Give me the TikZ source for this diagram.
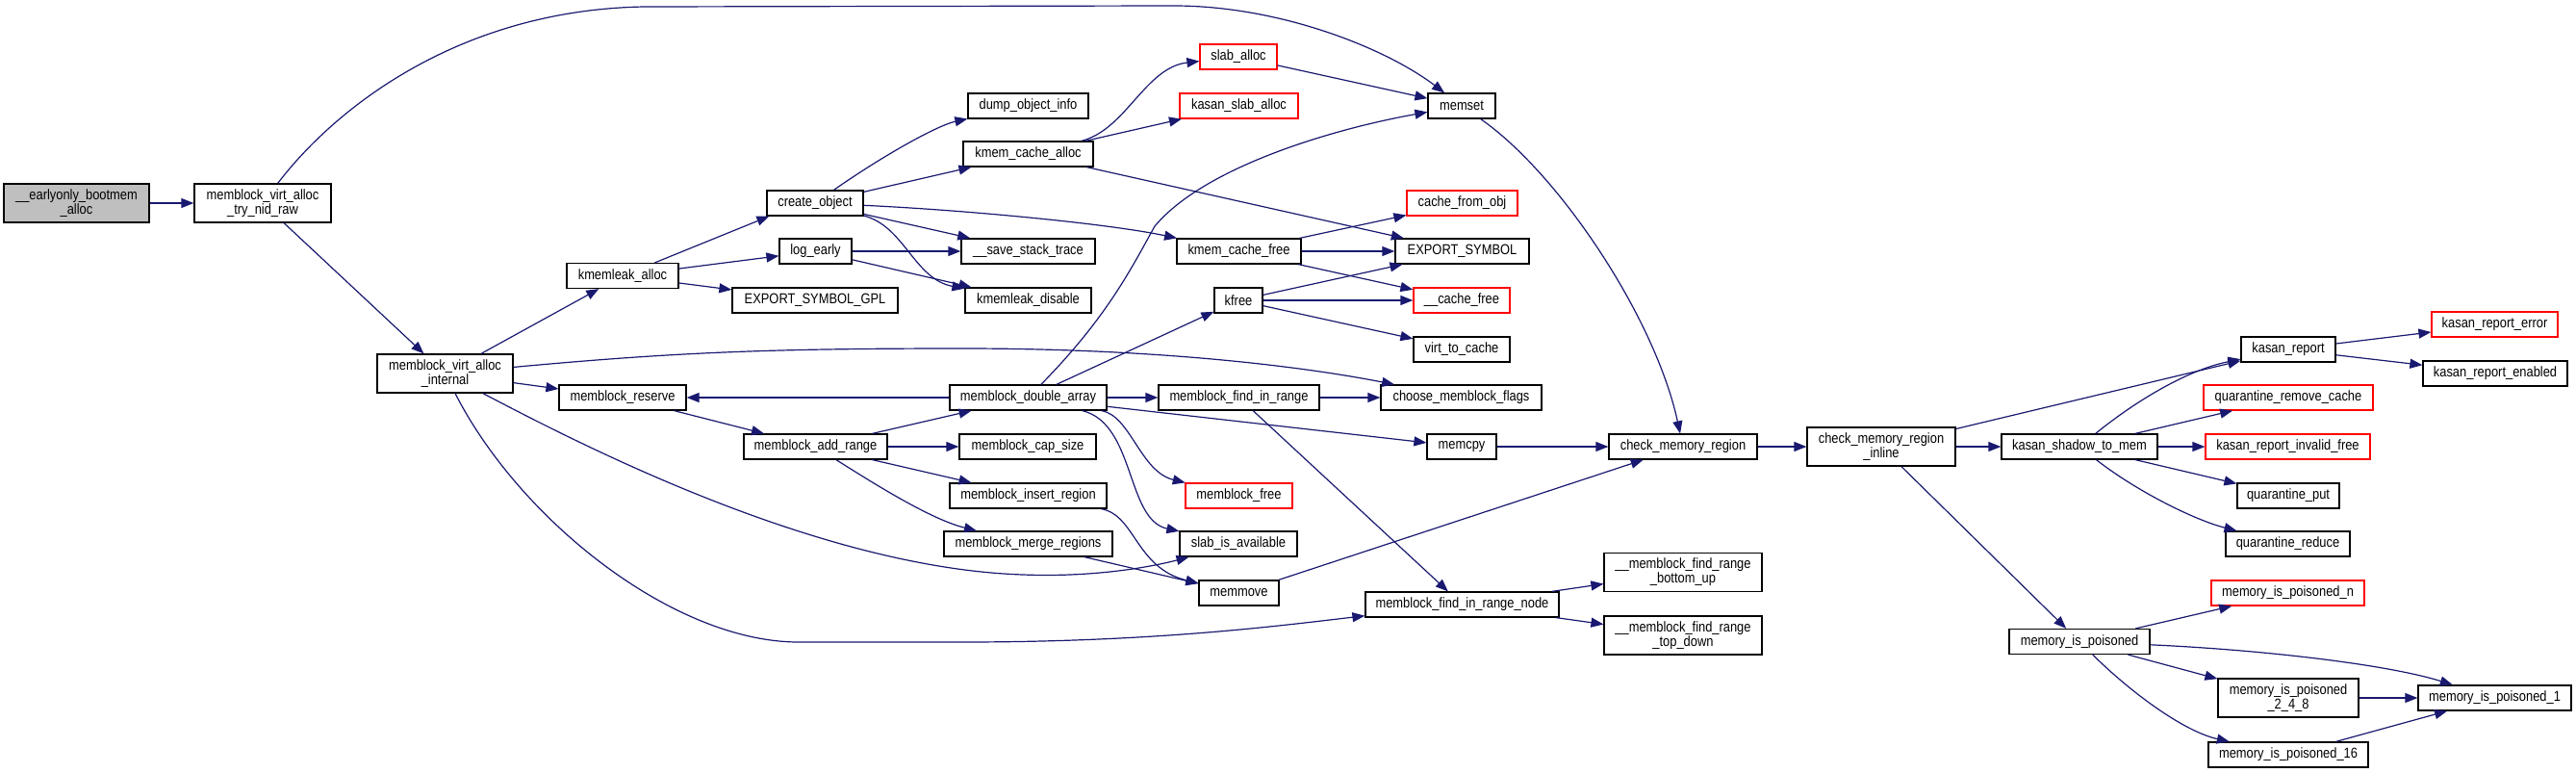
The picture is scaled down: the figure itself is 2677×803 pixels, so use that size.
\documentclass[tikz,border=0pt]{standalone}
\usepackage{fontspec}
\setmainfont[FakeStretch=0.865]{Liberation Sans}
\usetikzlibrary{arrows.meta}
\definecolor{edgec}{HTML}{191970}
\definecolor{rootfill}{HTML}{BFBFBF}
\definecolor{redb}{HTML}{FF0000}
\tikzset{
  fn/.style={draw=black, line width=1.2pt, fill=white, inner sep=0pt,
    minimum height=26pt, align=center, font=\fontsize{14.9}{15}\selectfont},
  fntwo/.style={fn, minimum height=40pt},
  redfn/.style={fn, draw=redb},
  arr/.style={draw=edgec, line width=1.2pt, -{Triangle[length=13pt,width=10pt]}}
}
\begin{document}
\begin{tikzpicture}[x=1pt,y=-1pt]
\useasboundingbox (0,0) rectangle (2677,803);
% nodes
\node[fntwo, fill=rootfill, minimum width=151pt] (early) at (79.5,211) {\_\_earlyonly\_bootmem\\\_alloc};
\node[fntwo, minimum width=142pt] (tryraw) at (273,211) {memblock\_virt\_alloc\\\_try\_nid\_raw};
\node[fntwo, minimum width=141pt] (internal) at (462.5,388) {memblock\_virt\_alloc\\\_internal};
\node[fn, minimum width=116pt] (kmemleak) at (647,286.5) {kmemleak\_alloc};
\node[fn, minimum width=132pt] (reserve) at (647,413) {memblock\_reserve};
\node[fn, minimum width=100pt] (createobj) at (847,211) {create\_object};
\node[fn, minimum width=75pt] (logearly) at (847.5,261) {log\_early};
\node[fn, minimum width=172pt] (exportgpl) at (847,312) {EXPORT\_SYMBOL\_GPL};
\node[fn, minimum width=125pt] (dumpobj) at (1068.5,110) {dump\_object\_info};
\node[fn, minimum width=135pt] (kcalloc) at (1068.5,160) {kmem\_cache\_alloc};
\node[fn, minimum width=139pt] (savestack) at (1068.5,261) {\_\_save\_stack\_trace};
\node[fn, minimum width=131pt] (kmdisable) at (1068.5,312) {kmemleak\_disable};
\node[fn, minimum width=163pt] (dblarray) at (1068.5,413) {memblock\_double\_array};
\node[fn, minimum width=149pt] (addrange) at (847.5,464) {memblock\_add\_range};
\node[fn, minimum width=142pt] (capsize) at (1068,464) {memblock\_cap\_size};
\node[fn, minimum width=163pt] (insertreg) at (1068.5,515) {memblock\_insert\_region};
\node[fn, minimum width=175pt] (mergereg) at (1068.5,565) {memblock\_merge\_regions};
\node[redfn, minimum width=80pt] (slaballoc) at (1287,59) {slab\_alloc};
\node[redfn, minimum width=123pt] (kasanslab) at (1287.5,110) {kasan\_slab\_alloc};
\node[fn, minimum width=129pt] (kcfree) at (1287.5,261) {kmem\_cache\_free};
\node[fn, minimum width=50pt] (kfree) at (1287,312) {kfree};
\node[fn, minimum width=167pt] (findrange) at (1287.5,413) {memblock\_find\_in\_range};
\node[redfn, minimum width=111pt] (mbfree) at (1287.5,515) {memblock\_free};
\node[fn, minimum width=122pt] (slabavail) at (1287,565) {slab\_is\_available};
\node[fn, minimum width=83pt] (memmove) at (1287.5,616) {memmove};
\node[fn, minimum width=70pt] (memset) at (1519,110) {memset};
\node[redfn, minimum width=115pt] (cachefromobj) at (1519.5,211) {cache\_from\_obj};
\node[fn, minimum width=139pt] (exportsym) at (1519.5,261) {EXPORT\_SYMBOL};
\node[redfn, minimum width=100pt] (cachefree) at (1519,312) {\_\_cache\_free};
\node[fn, minimum width=100pt] (virttocache) at (1519,363) {virt\_to\_cache};
\node[fn, minimum width=167pt] (choose) at (1518.5,413) {choose\_memblock\_flags};
\node[fn, minimum width=72pt] (memcpy) at (1519,464) {memcpy};
\node[fn, minimum width=201pt] (findnode) at (1519.5,628) {memblock\_find\_in\_range\_node};
\node[fn, minimum width=154pt] (checkmem) at (1749,464) {check\_memory\_region};
\node[fntwo, minimum width=164pt] (bottomup) at (1749,594.5) {\_\_memblock\_find\_range\\\_bottom\_up};
\node[fntwo, minimum width=164pt] (topdown) at (1749,660) {\_\_memblock\_find\_range\\\_top\_down};
\node[fntwo, minimum width=154pt] (checkinline) at (1955,464) {check\_memory\_region\\\_inline};
\node[fn, minimum width=98pt] (kasanreport) at (2378,363) {kasan\_report};
\node[redfn, minimum width=131pt] (kasanerror) at (2592.5,337) {kasan\_report\_error};
\node[fn, minimum width=150pt] (kasanenabled) at (2593,388) {kasan\_report\_enabled};
\node[redfn, minimum width=176pt] (qremove) at (2378,413) {quarantine\_remove\_cache};
\node[fn, minimum width=162pt] (shadow) at (2161,464) {kasan\_shadow\_to\_mem};
\node[redfn, minimum width=171pt] (invalidfree) at (2377.5,464) {kasan\_report\_invalid\_free};
\node[fn, minimum width=106pt] (qput) at (2378,515) {quarantine\_put};
\node[fn, minimum width=129pt] (qreduce) at (2377.5,565) {quarantine\_reduce};
\node[redfn, minimum width=159pt] (poisn) at (2377.5,616) {memory\_is\_poisoned\_n};
\node[fn, minimum width=146pt] (poisoned) at (2161,666.5) {memory\_is\_poisoned};
\node[fntwo, minimum width=146pt] (pois248) at (2378,725) {memory\_is\_poisoned\\\_2\_4\_8};
\node[fn, minimum width=159pt] (pois1) at (2592.5,725) {memory\_is\_poisoned\_1};
\node[fn, minimum width=166pt] (pois16) at (2378,784) {memory\_is\_poisoned\_16};
% edges
\draw[arr] (early) -- (tryraw);
\draw[arr] (tryraw) .. controls (350,110) and (480,10) .. (670,7) -- (1220,6) .. controls (1330,6) and (1440,50) .. (memset);
\draw[arr] (tryraw) -- (internal);
\draw[arr] (internal) -- (kmemleak);
\draw[arr] (internal) -- (reserve);
\draw[arr] (internal) .. controls (700,366) and (800,362) .. (1000,362) .. controls (1200,362) and (1350,380) .. (choose);
\draw[arr] (internal) .. controls (600,460) and (850,590) .. (1063,597) .. controls (1140,600) and (1200,588) .. (slabavail);
\draw[arr] (internal) .. controls (540,540) and (700,667) .. (830,667) -- (1000,667) .. controls (1200,667) and (1330,650) .. (findnode);
\draw[arr] (kmemleak) -- ([xshift=3pt]createobj.south west);
\draw[arr] (kmemleak) -- (logearly);
\draw[arr] (kmemleak) -- (exportgpl);
\draw[arr] (createobj) .. controls (920,160) and (975,130) .. (dumpobj);
\draw[arr] (createobj) -- (kcalloc);
\draw[arr] (createobj) .. controls (1000,218) and (1150,232) .. (kcfree);
\draw[arr] (createobj) -- (savestack);
\draw[arr] (createobj) .. controls (940,235) and (950,290) .. (kmdisable);
\draw[arr] (logearly) -- (savestack);
\draw[arr] (logearly) -- (kmdisable);
\draw[arr] (kcalloc) .. controls (1170,135) and (1190,70) .. (slaballoc);
\draw[arr] (kcalloc) -- (kasanslab);
\draw[arr] (kcalloc) -- (exportsym);
\draw[arr] (slaballoc) -- (memset);
\draw[arr] (kcfree) -- (cachefromobj);
\draw[arr] (kcfree) -- (exportsym);
\draw[arr] (kcfree) -- (cachefree);
\draw[arr] (kfree) -- (exportsym);
\draw[arr] (kfree) -- (cachefree);
\draw[arr] (kfree) -- (virttocache);
\draw[arr] (dblarray) -- (reserve);
\draw[arr] (dblarray) -- (findrange);
\draw[arr] (dblarray) -- (kfree);
\draw[arr] (dblarray) .. controls (1150,330) and (1175,280) .. (1200,235) .. controls (1250,175) and (1380,135) .. (memset);
\draw[arr] (dblarray) -- (memcpy);
\draw[arr] (dblarray) .. controls (1175,432) and (1185,490) .. (mbfree);
\draw[arr] (dblarray) .. controls (1180,440) and (1170,540) .. (slabavail);
\draw[arr] (reserve) -- (addrange);
\draw[arr] (addrange) -- (dblarray);
\draw[arr] (addrange) -- (capsize);
\draw[arr] (addrange) -- (insertreg);
\draw[arr] (addrange) .. controls (920,510) and (970,540) .. (mergereg);
\draw[arr] (insertreg) .. controls (1180,535) and (1180,590) .. (memmove);
\draw[arr] (mergereg) -- (memmove);
\draw[arr] (findrange) -- (choose);
\draw[arr] (findrange) -- (findnode);
\draw[arr] (memmove) -- (checkmem);
\draw[arr] (memcpy) -- (checkmem);
\draw[arr] (memset) .. controls (1620,180) and (1720,330) .. (checkmem);
\draw[arr] (findnode) -- (bottomup);
\draw[arr] (findnode) -- (topdown);
\draw[arr] (checkmem) -- (checkinline);
\draw[arr] (checkinline) -- (kasanreport);
\draw[arr] (checkinline) -- (shadow);
\draw[arr] (checkinline) -- (poisoned);
\draw[arr] (shadow) .. controls (2215,420) and (2270,385) .. (kasanreport);
\draw[arr] (shadow) -- (qremove);
\draw[arr] (shadow) -- (invalidfree);
\draw[arr] (shadow) -- (qput);
\draw[arr] (shadow) .. controls (2220,510) and (2280,540) .. (qreduce);
\draw[arr] (kasanreport) -- (kasanerror);
\draw[arr] (kasanreport) -- (kasanenabled);
\draw[arr] (poisoned) -- (poisn);
\draw[arr] (poisoned) .. controls (2350,675) and (2480,690) .. (pois1);
\draw[arr] (poisoned) -- (pois248);
\draw[arr] (poisoned) .. controls (2215,720) and (2270,760) .. (pois16);
\draw[arr] (pois248) -- (pois1);
\draw[arr] (pois16) -- (pois1);
\end{tikzpicture}
\end{document}
